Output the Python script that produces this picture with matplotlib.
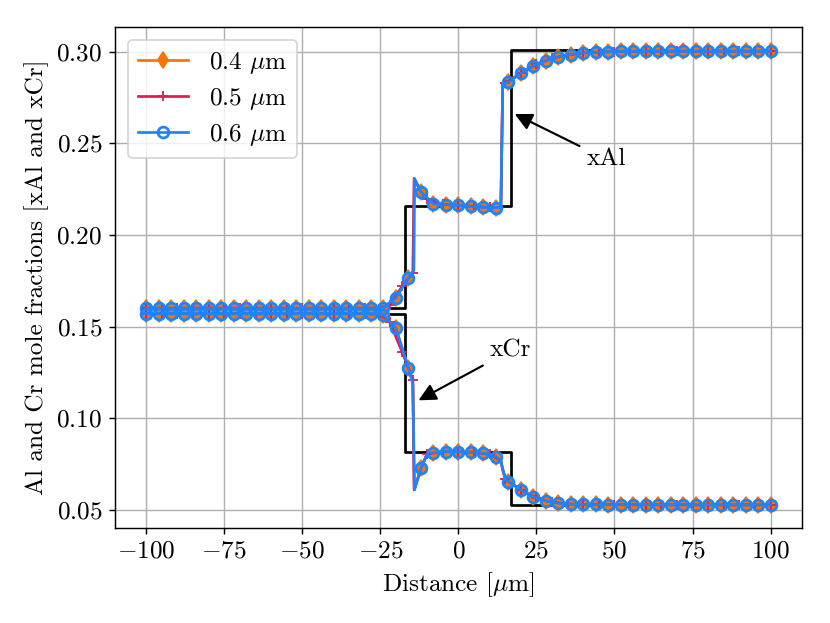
import matplotlib
matplotlib.use("Agg")
import matplotlib.pyplot as plt

plt.rcParams['font.family'] = 'cmr10'
plt.rcParams['mathtext.fontset'] = 'cm'
plt.rcParams['axes.formatter.use_mathtext'] = True
plt.rcParams['font.size'] = 14

# initial (step) composition profiles
x_init = [-100, -17, -17, 17, 17, 100]
al_init = [0.160, 0.160, 0.216, 0.216, 0.301, 0.301]
cr_init = [0.157, 0.157, 0.0815, 0.0815, 0.0525, 0.0525]

# 0.4 and 0.6 um curves sit on top of each other -> same read-off values
x_al = [-100, -96, -92, -88, -84, -80, -76, -72, -68, -64, -60, -56, -52, -48,
        -44, -40, -36, -32, -28, -24, -20, -16, -14.3, -14.1, -12, -8, -4, 0,
        4, 8, 12, 13.6, 14.2, 16, 20, 24, 28, 32, 36, 40, 44, 48, 52, 56, 60,
        64, 68, 72, 76, 80, 84, 88, 92, 96, 100]
al_fine = [0.160, 0.160, 0.160, 0.160, 0.160, 0.160, 0.160, 0.160, 0.160, 0.160,
           0.160, 0.160, 0.160, 0.160, 0.160, 0.160, 0.160, 0.160, 0.160, 0.1603,
           0.1658, 0.1767, 0.1807, 0.2307, 0.2234, 0.2170, 0.2165, 0.2161,
           0.2156, 0.2150, 0.2149, 0.2150, 0.2824, 0.2833, 0.2882, 0.2924,
           0.2951, 0.2973, 0.2984, 0.2993, 0.2996, 0.3000, 0.3001, 0.3001,
           0.3002, 0.3002, 0.3002, 0.3002, 0.3002, 0.3002, 0.3002, 0.3002,
           0.3002, 0.3002, 0.3002]

x_cr = [-100, -96, -92, -88, -84, -80, -76, -72, -68, -64, -60, -56, -52, -48,
        -44, -40, -36, -32, -28, -24, -20, -16, -14.6, -14.1, -12, -10, -8, -4,
        0, 4, 8, 12, 13.5, 14.5, 15.3, 16, 20, 24, 28, 32, 36, 40, 44, 48, 52,
        56, 60, 64, 68, 72, 76, 80, 84, 88, 92, 96, 100]
cr_fine = [0.157, 0.157, 0.157, 0.157, 0.157, 0.157, 0.157, 0.157, 0.157, 0.157,
           0.157, 0.157, 0.157, 0.157, 0.157, 0.157, 0.157, 0.157, 0.157, 0.1562,
           0.149, 0.1272, 0.119, 0.0609, 0.0727, 0.0805, 0.0812, 0.0818, 0.0818,
           0.0814, 0.0809, 0.0790, 0.0770, 0.0700, 0.0663, 0.0654, 0.0609,
           0.0569, 0.0549, 0.0536, 0.0531, 0.0529, 0.0529, 0.0528, 0.0528,
           0.0528, 0.0528, 0.0528, 0.0527, 0.0527, 0.0527, 0.0527, 0.0527,
           0.0527, 0.0527, 0.0527, 0.0527]

# 0.5 um curve, markers land on other positions
x_05 = [-100, -95, -90, -85, -80, -75, -70, -65, -60, -55, -50, -45, -40, -35,
        -30, -25, -22, -18, -14.6, -14.2, -12, -10, -5, 0, 5, 10, 13.6, 14.2,
        15, 20, 25, 30, 35, 40, 45, 50, 55, 60, 65, 70, 75, 80, 85, 90, 95, 100]
al_05 = [0.160, 0.160, 0.160, 0.160, 0.160, 0.160, 0.160, 0.160, 0.160, 0.160,
         0.160, 0.160, 0.160, 0.160, 0.160, 0.1602, 0.1617, 0.172, 0.1793,
         0.2307, 0.2234, 0.2195, 0.2166, 0.2161, 0.2155, 0.2150, 0.2150, 0.2824,
         0.2829, 0.2882, 0.2932, 0.2963, 0.2982, 0.2993, 0.2997, 0.3000, 0.3001,
         0.3002, 0.3002, 0.3002, 0.3002, 0.3002, 0.3002, 0.3002, 0.3002, 0.3002]
cr_05 = [0.157, 0.157, 0.157, 0.157, 0.157, 0.157, 0.157, 0.157, 0.157, 0.157,
         0.157, 0.157, 0.157, 0.157, 0.157, 0.1565, 0.1525, 0.136, 0.121,
         0.0609, 0.0727, 0.0805, 0.0817, 0.0818, 0.0813, 0.0803, 0.0768, 0.0720,
         0.0668, 0.0609, 0.0563, 0.0541, 0.0532, 0.0529, 0.0529, 0.0528, 0.0528,
         0.0528, 0.0527, 0.0527, 0.0527, 0.0527, 0.0527, 0.0527, 0.0527, 0.0527]
extra_marks_05 = [-22, -18, -14.6]

c04 = '#f97306'
c05 = '#e6194b'
c06 = '#1a85ff'


def marks(xs, step, extra=()):
    return [i for i, x in enumerate(xs) if x % step == 0 or x in extra]


fig = plt.figure(figsize=(830 / 130, 623 / 130), dpi=130)
ax = fig.add_axes([0.1386, 0.1525, 0.8274, 0.8042])

ax.plot(x_init, al_init, color='k', lw=1.5)
ax.plot(x_init, cr_init, color='k', lw=1.5)

for xs, ys, lab in [(x_al, al_fine, r'0.4 $\mu$m'), (x_cr, cr_fine, None)]:
    ax.plot(xs, ys, color=c04, marker='d', markevery=marks(xs, 4), lw=1.5,
            label=lab)
for ys, lab in [(al_05, r'0.5 $\mu$m'), (cr_05, None)]:
    ax.plot(x_05, ys, color=c05, marker='+', lw=1.5,
            markevery=marks(x_05, 5, extra_marks_05), label=lab)
for xs, ys, lab in [(x_al, al_fine, r'0.6 $\mu$m'), (x_cr, cr_fine, None)]:
    ax.plot(xs, ys, color=c06, marker='o', mfc='none', mew=1.5,
            markevery=marks(xs, 4), lw=1.5, label=lab)

ax.annotate('xAl', xy=(17, 0.2668), xytext=(41, 0.238),
            arrowprops=dict(arrowstyle='-|>', color='k', lw=1.2,
                            mutation_scale=20))
ax.annotate('xCr', xy=(-13.8, 0.1088), xytext=(10, 0.1335),
            arrowprops=dict(arrowstyle='-|>', color='k', lw=1.2,
                            mutation_scale=20))

ax.set_xlabel(r'Distance [$\mu$m]')
ax.set_ylabel('Al and Cr mole fractions [xAl and xCr]')
ax.grid(True)
ax.legend(loc='upper left', labelspacing=0.4)

fig.savefig('out.png', dpi=130)
